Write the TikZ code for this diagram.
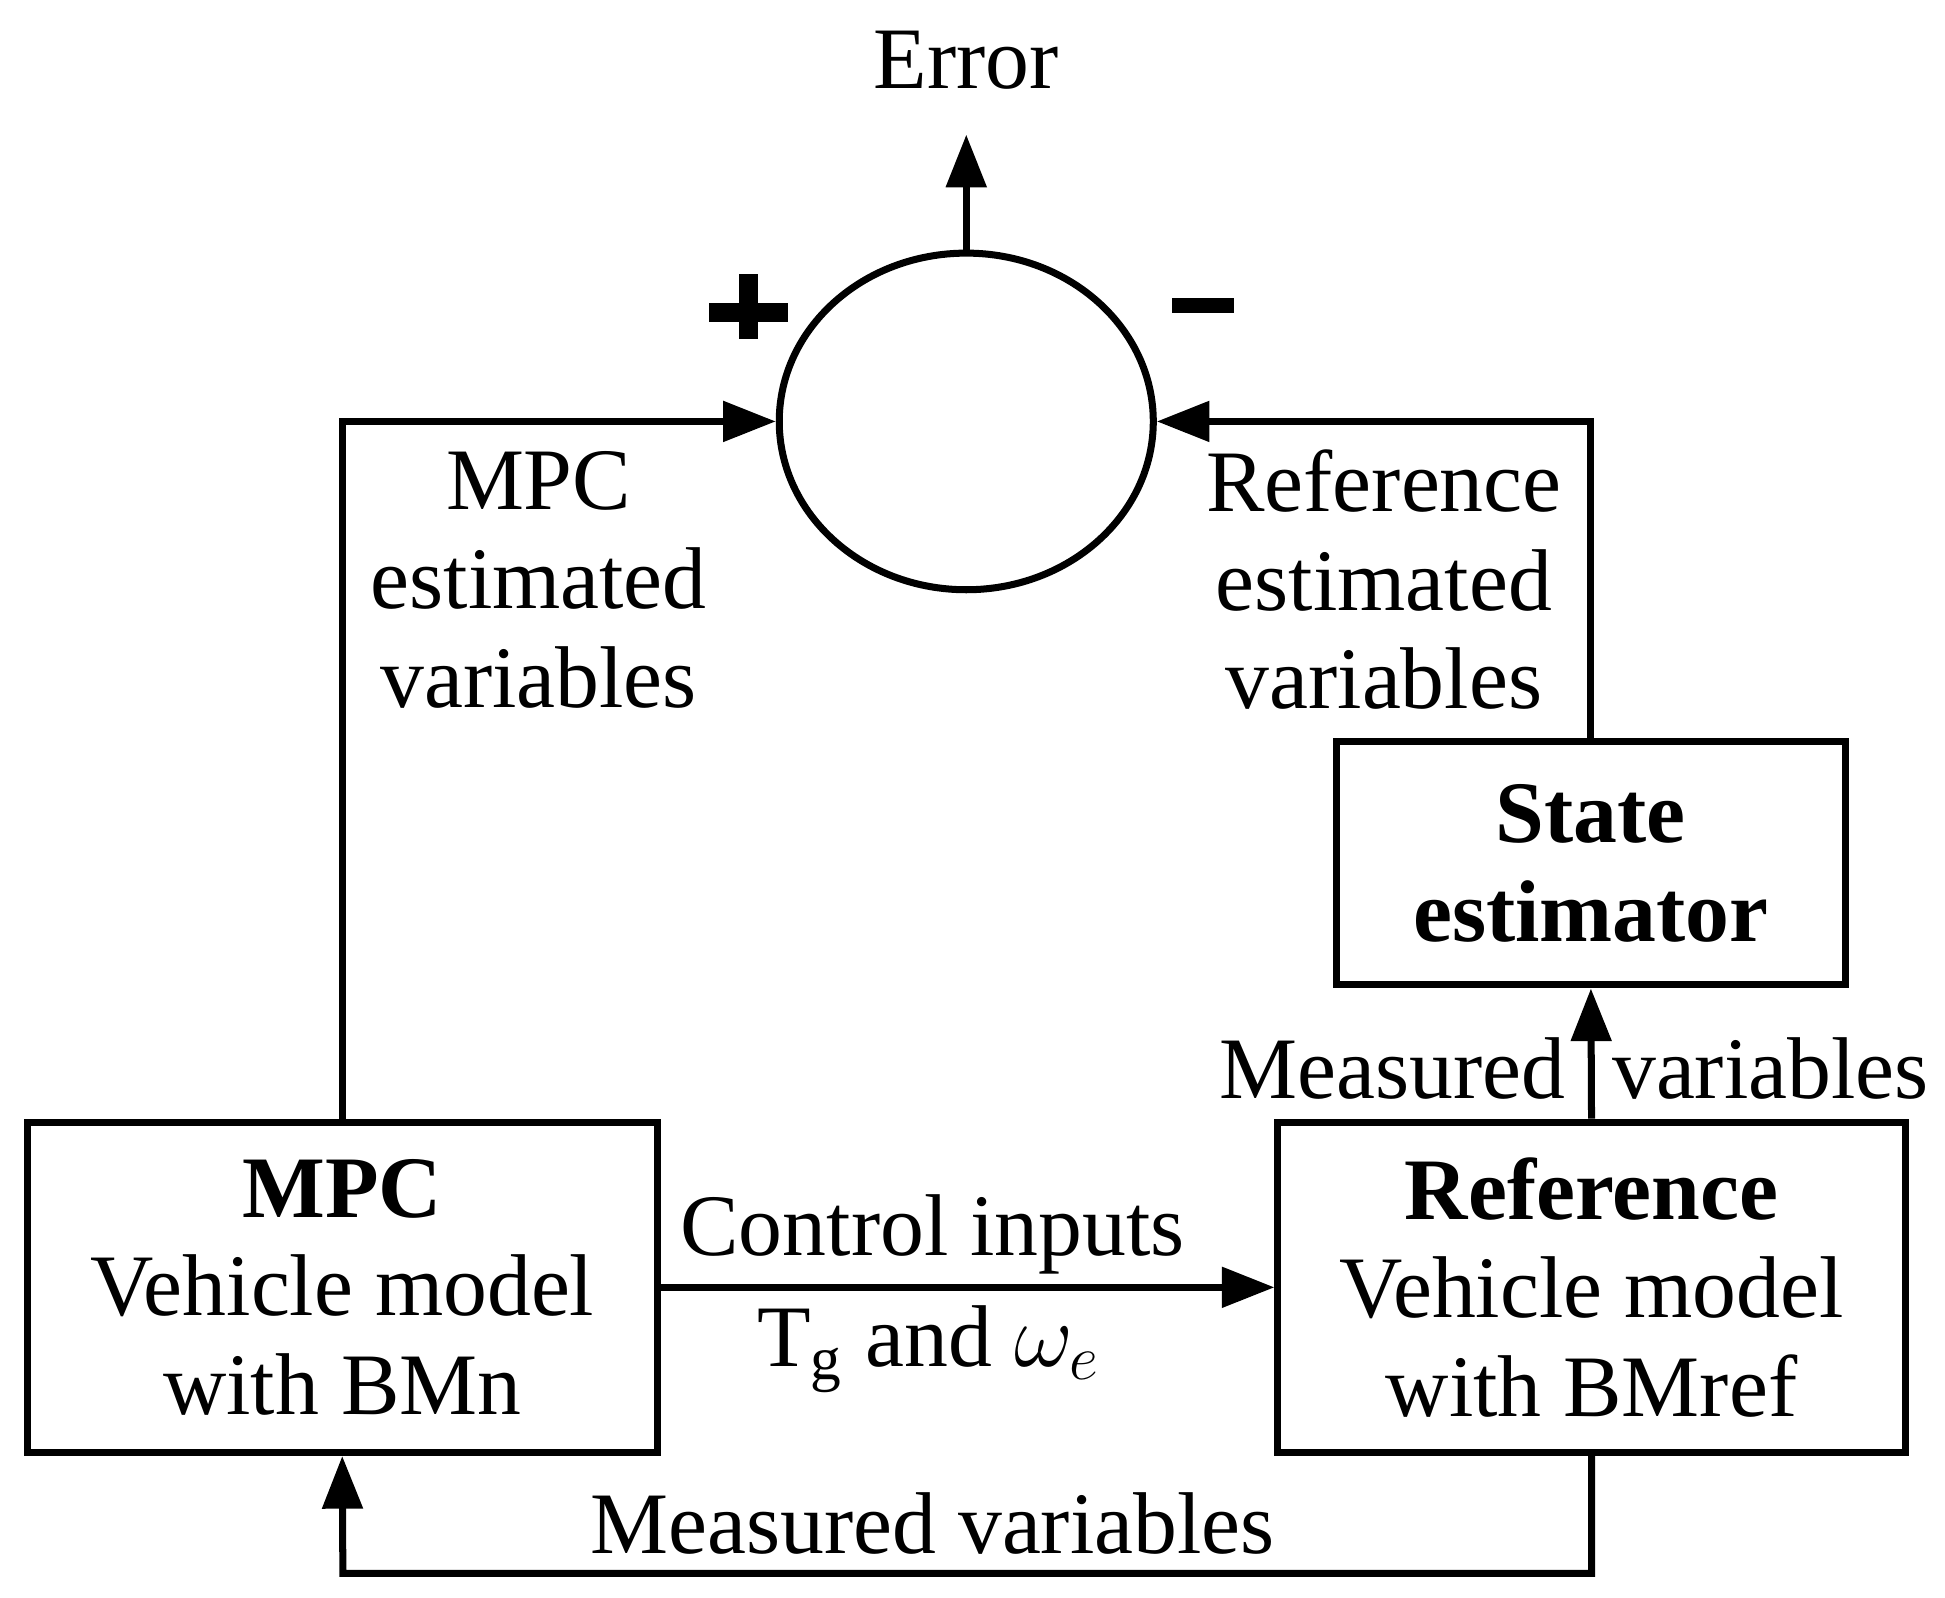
\documentclass[tikz,border=0pt]{standalone}
\usepackage{fontspec}
\setmainfont{Liberation Serif}
\usetikzlibrary{arrows.meta,shapes.geometric}
\begin{document}
\begin{tikzpicture}[x=0.01cm,y=-0.01cm,
  txt/.style={font=\fontsize{20}{22.5}\selectfont,align=center,inner sep=0},
  box/.style={draw,line width=1.6pt,inner sep=0,align=center,font=\fontsize{20}{22.5}\selectfont},
  ln/.style={line width=1.6pt},
  arr/.style={ln,-{Triangle[length=12pt,width=9pt]}}]
\useasboundingbox (0,0) rectangle (1560,1281);
\node[draw,ellipse,ln,minimum width=300\pgflinewidth/1.6*0.01cm*0+300*0.01cm,minimum height=270*0.01cm] (sum) at (775,338) {};
\node[txt] (err) at (775,48) {Error};
\coordinate (errtip) at (775,108);
\draw[arr] (sum.north) -- (errtip);
\fill (569,243) rectangle (632,258);
\fill (593,220) rectangle (608,272);
\fill (940,239) rectangle (990,251);
\node[box,minimum width=505*0.01cm,minimum height=265*0.01cm] (mpc) at (274.5,1032.5) {\textbf{MPC}\\Vehicle model\\with BMn};
\node[box,minimum width=503*0.01cm,minimum height=265*0.01cm] (ref) at (1276.5,1032.5) {\textbf{Reference}\\Vehicle model\\with BMref};
\node[box,minimum width=408*0.01cm,minimum height=195*0.01cm] (se) at (1276,692.5) {\textbf{State}\\\textbf{estimator}};
\draw[arr] (mpc.north) |- (sum.west);
\draw[arr] (se.north) |- (sum.east);
\draw[arr] (ref.north) -- (se.south);
\draw[arr] (mpc.east) -- (ref.west);
\coordinate (bl) at (275,1262);
\draw[arr] (ref.south) |- (bl) -- (mpc.south);
\node[txt] (ci) at (748,990) {Control inputs};
\node[txt] (tg) at (745,1082) {T\textsubscript{g} and $\omega_e$};
\node[txt] (mv) at (748,1222) {Measured variables};
\node[txt] (mv1) at (1117,857) {Measured};
\node[txt] (mv2) at (1420,857) {variables};
\node[txt] (mest) at (432,465) {MPC\\estimated\\variables};
\node[txt] (rest) at (1110,465) {Reference\\estimated\\variables};
\end{tikzpicture}
\end{document}
